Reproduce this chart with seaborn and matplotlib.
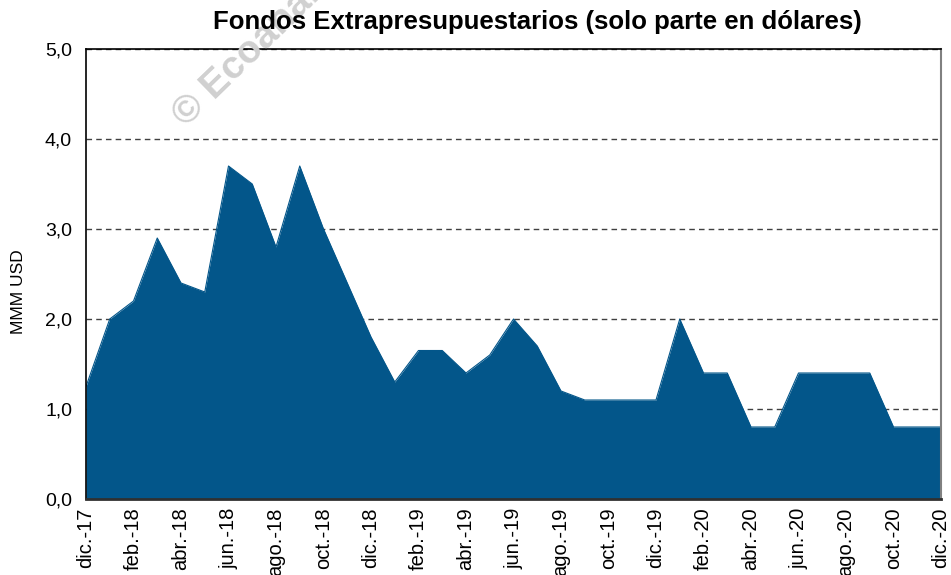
import matplotlib
matplotlib.use("Agg")
import matplotlib.pyplot as plt
import numpy as np
import pandas as pd
import seaborn as sns

# monthly data, dic-17 .. dic-20
months = [
    "dic.-17", "ene.-18", "feb.-18", "mar.-18", "abr.-18", "may.-18", "jun.-18",
    "jul.-18", "ago.-18", "sep.-18", "oct.-18", "nov.-18", "dic.-18",
    "ene.-19", "feb.-19", "mar.-19", "abr.-19", "may.-19", "jun.-19",
    "jul.-19", "ago.-19", "sep.-19", "oct.-19", "nov.-19", "dic.-19",
    "ene.-20", "feb.-20", "mar.-20", "abr.-20", "may.-20", "jun.-20",
    "jul.-20", "ago.-20", "sep.-20", "oct.-20", "nov.-20", "dic.-20",
]
valores = [
    1.25, 2.0, 2.2, 2.9, 2.4, 2.3, 3.7,
    3.5, 2.8, 3.7, 3.0, 2.4, 1.8,
    1.3, 1.65, 1.65, 1.4, 1.6, 2.0,
    1.7, 1.2, 1.1, 1.1, 1.1, 1.1,
    2.0, 1.4, 1.4, 0.8, 0.8, 1.4,
    1.4, 1.4, 1.4, 0.8, 0.8, 0.8,
]
y_ticks = [0, 1, 2, 3, 4, 5]
y_tick_labels = ["0,0", "1,0", "2,0", "3,0", "4,0", "5,0"]

AREA_COLOR = "#03568A"

sns.set_theme(style="white")
plt.rcParams["font.family"] = ["Liberation Sans", "DejaVu Sans"]
plt.rcParams.update({
    "text.color": "black",
    "axes.labelcolor": "black",
    "xtick.color": "black",
    "ytick.color": "black",
})

df = pd.DataFrame({"idx": np.arange(len(months)), "mes": months, "valor": valores})

fig = plt.figure(figsize=(9.51, 5.75), dpi=100)
ax = fig.add_axes([86 / 951, 1 - 499 / 575, 855 / 951, 450 / 575])

# watermark, behind everything
fig.text(186 / 951, 1 - 128 / 575, "© Ecoanalítica", rotation=44, rotation_mode="anchor",
         ha="left", va="baseline", fontsize=28, fontweight="bold", color="#d0d0d0", zorder=0)

for y in y_ticks[1:]:
    ax.axhline(y, color="#404040", linestyle=(0, (4, 3)), linewidth=1, zorder=1)

sns.lineplot(data=df, x="idx", y="valor", color=AREA_COLOR, linewidth=0.8, ax=ax, zorder=2)
ax.fill_between(df["idx"], df["valor"], color=AREA_COLOR, linewidth=0, zorder=2)

ax.set_xlim(0, len(months) - 1)
ax.set_ylim(0, 5)
ax.set_yticks(y_ticks)
ax.set_yticklabels(y_tick_labels, fontsize=14)
ax.set_xticks(df["idx"][::2])
ax.set_xticklabels(df["mes"][::2], rotation=90, fontsize=14.5, va="top")
ax.tick_params(axis="y", direction="in", length=4, pad=10, color="black")
ax.tick_params(axis="x", length=0, pad=6)
ax.set_xlabel("")
ax.set_ylabel("MMM USD", fontsize=12.5)
ax.yaxis.set_label_coords(-0.07, 0.46)
ax.patch.set_alpha(0)

for side in ["left", "top"]:
    ax.spines[side].set_color("black")
    ax.spines[side].set_linewidth(1.2)
ax.spines["right"].set_color("#808080")
ax.spines["right"].set_linewidth(1.5)
ax.spines["bottom"].set_color("#303030")
ax.spines["bottom"].set_linewidth(2)

fig.text(537 / 951, 1 - 22 / 575, "Fondos Extrapresupuestarios (solo parte en dólares)",
         ha="center", va="center", fontsize=18.5, fontweight="bold", zorder=3)

fig.savefig("out.png", dpi=100)
